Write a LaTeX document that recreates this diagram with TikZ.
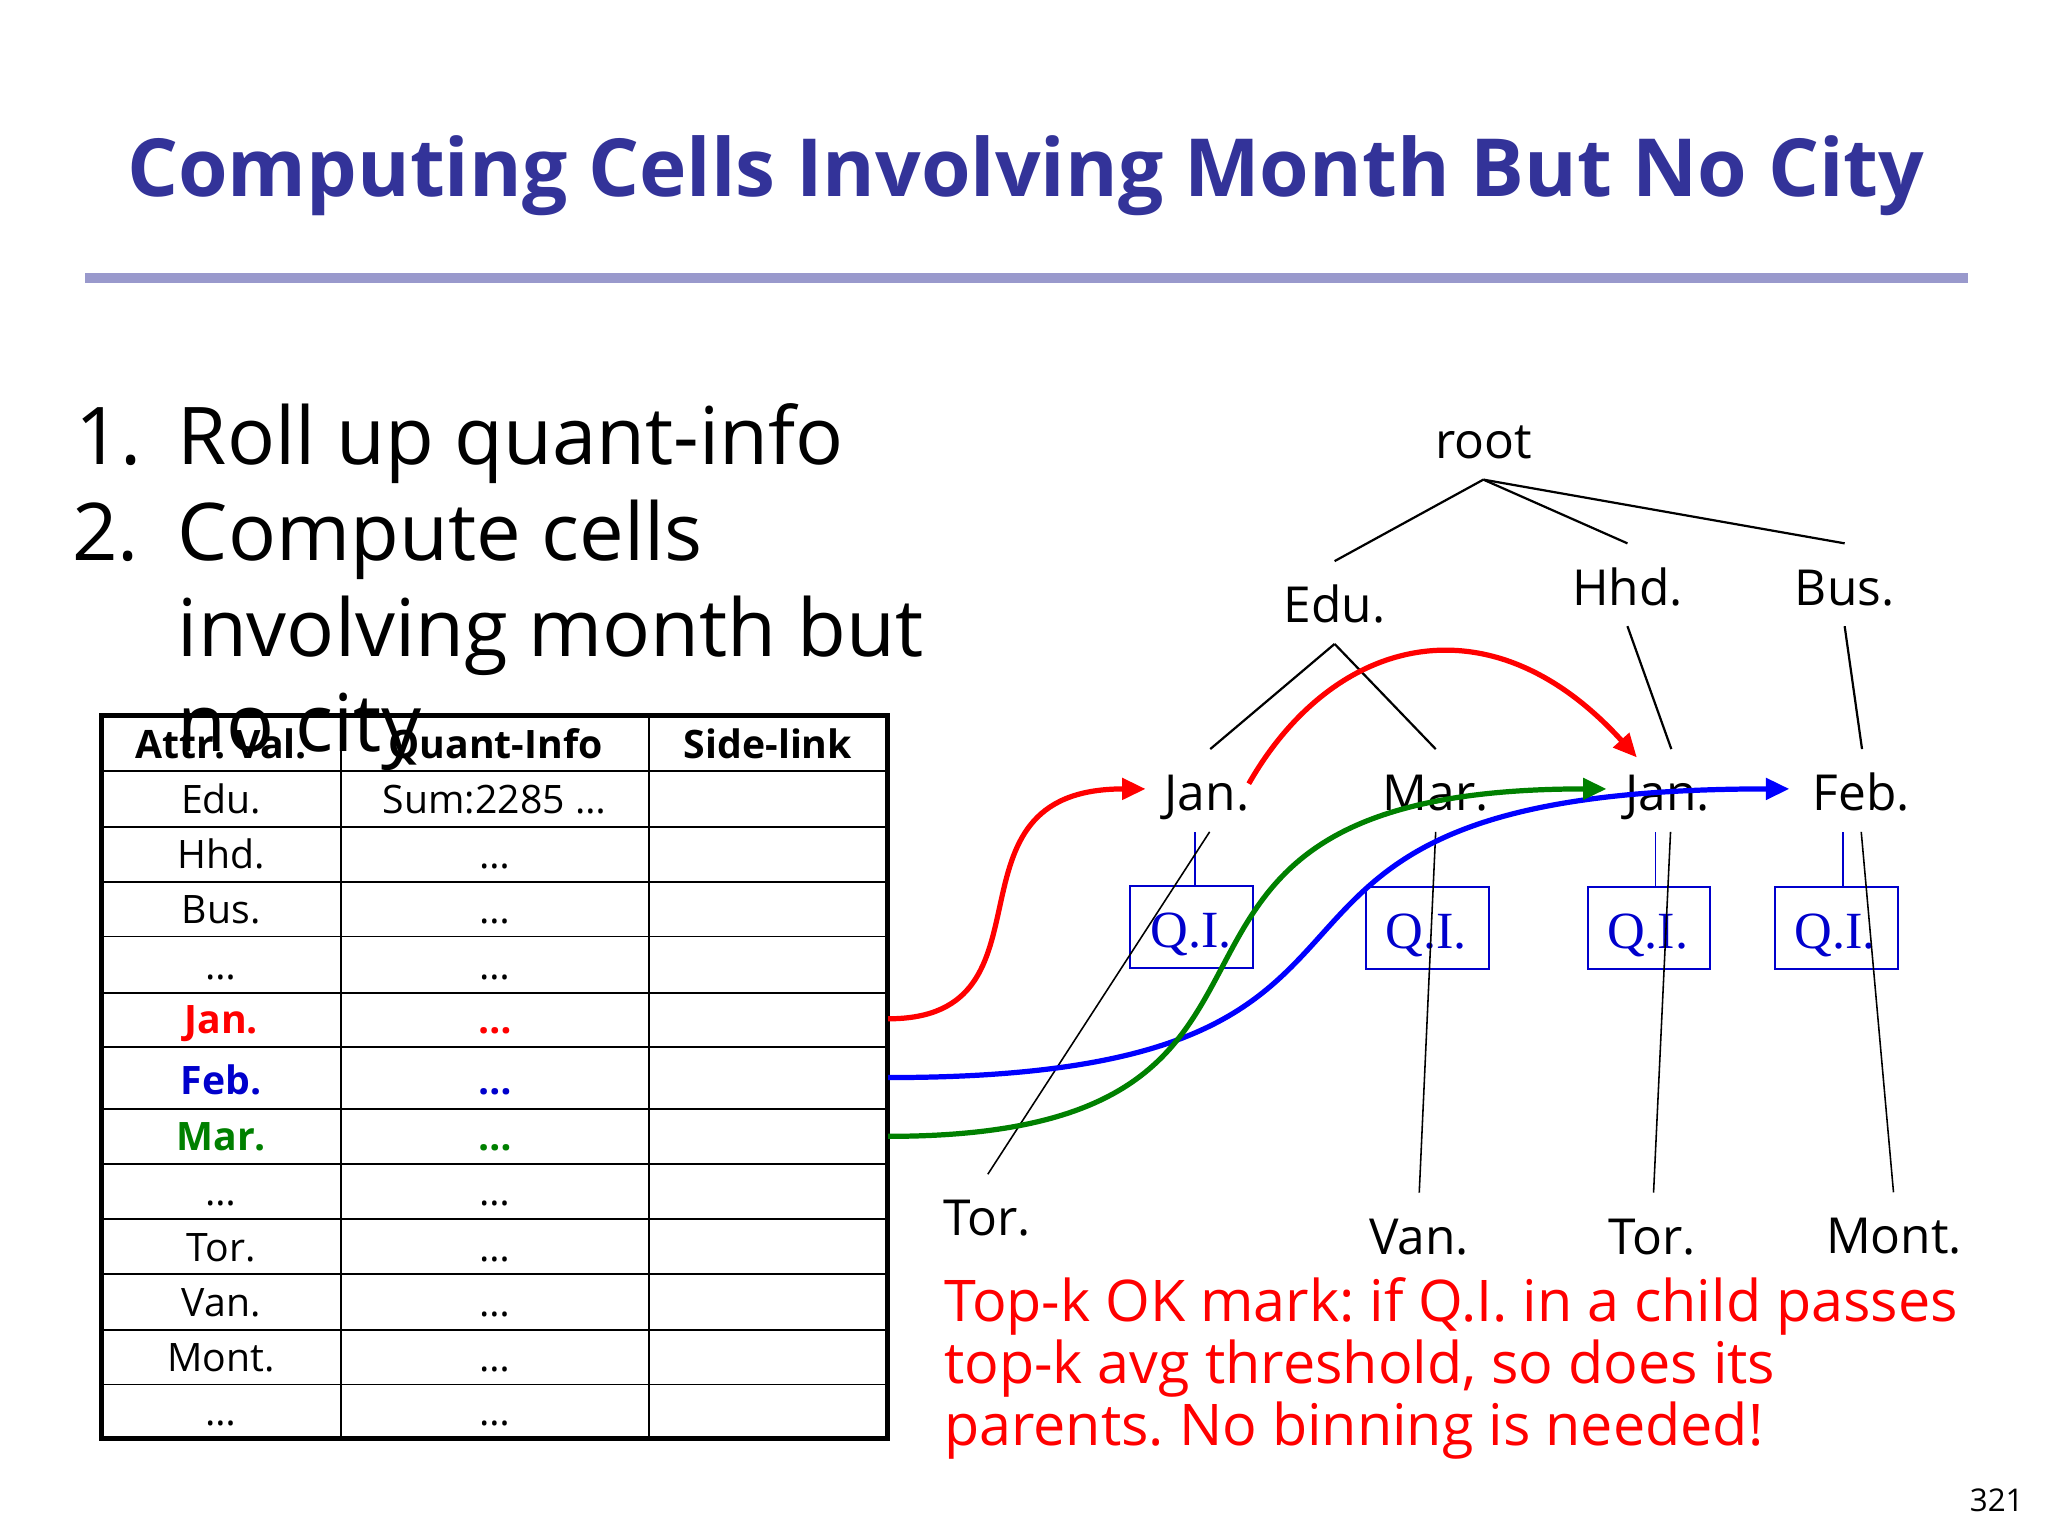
\documentclass[tikz,border=0pt]{standalone}
\usepackage{fontspec}
\setmainfont{Open Sans}
\newfontfamily\qifont{Liberation Serif}
\usetikzlibrary{arrows.meta,calc}
\frenchspacing
\definecolor{titleblue}{HTML}{333399}
\definecolor{rulecol}{HTML}{9999CC}
\definecolor{qiblue}{HTML}{0000CC}
\definecolor{arrred}{HTML}{FF0000}
\definecolor{arrgreen}{HTML}{008000}
\definecolor{arrblue}{HTML}{0000FF}
\definecolor{cellblue}{HTML}{0000CC}
\tikzset{
  titletext/.style={anchor=base, inner sep=0, text=titleblue, font=\bfseries\fontsize{61.4}{70}\selectfont},
  listtext/.style={anchor=base west, inner sep=0, font=\fontsize{61}{70}\selectfont},
  celltext/.style={anchor=base, inner sep=0, font=\fontsize{30}{34}\selectfont},
  cellbold/.style={anchor=base, inner sep=0, font=\bfseries\fontsize{30}{34}\selectfont},
  treelbl/.style={anchor=base, inner sep=0, text height=47pt, text depth=16pt, font=\fontsize{38}{44}\selectfont},
  treeedge/.style={line width=1.7pt, black},
  cityedge/.style={line width=1.2pt, black},
  qibox/.style={draw=qiblue, line width=1.6pt, minimum width=94pt, minimum height=63pt, inner sep=0},
  qitext/.style={anchor=base, inner sep=0, text=qiblue, font=\qifont\fontsize{40}{48}\selectfont},
  qistem/.style={draw=qiblue, line width=1.4pt},
  flow/.style={line width=4pt, -{Triangle[length=18pt,width=16pt]}},
  notetext/.style={anchor=base west, inner sep=0, text=arrred, font=\fontsize{44}{47}\selectfont},
  tablegrid/.style={line width=1.5pt, black},
  tableframe/.style={line width=3.5pt, black}
}
\begin{document}
\begin{tikzpicture}[x=1pt,y=-1pt]
\useasboundingbox (0,0) rectangle (1568,1176);
\fill[white] (0,0) rectangle (1568,1176);

% title and rule
\node[titletext] (title) at (785.5,150.1) {Computing Cells Involving Month But No City};
\fill[rulecol] (65,209.3) rectangle (1506.8,216.4);

% table
\foreach \yy in {590.5,633,675,717,760,801.5,849,891,933,975.5,1018,1060}
  \draw[tablegrid] (77.7,\yy) -- (679.6,\yy);
\draw[tablegrid] (261,548) -- (261,1101.5);
\draw[tablegrid] (496.6,548) -- (496.6,1101.5);
\draw[tableframe] (77.7,548) rectangle (679.6,1101.5);

\node[cellbold] (h1) at (169.4,580.5) {Attr. Val.};
\node[cellbold] (h2) at (379.5,580.5) {Quant-Info};
\node[cellbold] (h3) at (588,580.5) {Side-link};

\node[celltext] (a1) at (169.4,623) {Edu.};
\node[celltext] (b1) at (378.5,623) {Sum:2285 …};
\node[celltext] (a2) at (169.4,665) {Hhd.};
\node[celltext] (b2) at (378.8,665) {…};
\node[celltext] (a3) at (169.4,707) {Bus.};
\node[celltext] (b3) at (378.8,707) {…};
\node[celltext] (a4) at (169.4,750) {…};
\node[celltext] (b4) at (378.8,750) {…};
\node[cellbold,text=arrred] (a5) at (169.4,791.5) {Jan.};
\node[cellbold,text=arrred] (b5) at (378.8,791.5) {…};
\node[cellbold,text=cellblue] (a6) at (169.4,838) {Feb.};
\node[cellbold,text=cellblue] (b6) at (378.8,838) {…};
\node[cellbold,text=arrgreen] (a7) at (169.4,881) {Mar.};
\node[cellbold,text=arrgreen] (b7) at (378.8,881) {…};
\node[celltext] (a8) at (169.4,923) {…};
\node[celltext] (b8) at (378.8,923) {…};
\node[celltext] (a9) at (169.4,965.5) {Tor.};
\node[celltext] (b9) at (378.8,965.5) {…};
\node[celltext] (a10) at (169.4,1008) {Van.};
\node[celltext] (b10) at (378.8,1008) {…};
\node[celltext] (a11) at (169.4,1050) {Mont.};
\node[celltext] (b11) at (378.8,1050) {…};
\node[celltext] (a12) at (169.4,1091.5) {…};
\node[celltext] (b12) at (378.8,1091.5) {…};

% list text
\node[listtext] (n1) at (57.5,356) {1.};
\node[listtext] (l1) at (136,356) {Roll up quant-info};
\node[listtext] (n2) at (55,428.8) {2.};
\node[listtext] (l2) at (136,428.8) {Compute cells};
\node[listtext] (l3) at (136,502.3) {involving month but};
\node[listtext] (l4) at (136,575.5) {no city};

% tree labels
\node[treelbl] (root) at (1135.7,351) {root};
\node[treelbl] (edu) at (1021.8,476.8) {Edu.};
\node[treelbl] (hhd) at (1246,463.2) {Hhd.};
\node[treelbl] (bus) at (1412.3,463.2) {Bus.};
\node[treelbl] (jan1) at (924.1,620.7) {Jan.};
\node[treelbl] (mar) at (1099.2,620.7) {Mar.};
\node[treelbl] (jan2) at (1276.8,620.7) {Jan.};
\node[treelbl] (feb) at (1425,620.7) {Feb.};
\node[treelbl] (tor1) at (755.7,946.2) {Tor.};
\node[treelbl] (van) at (1086.6,960.3) {Van.};
\node[treelbl] (tor2) at (1264.7,960.3) {Tor.};
\node[treelbl] (mont) at (1450.2,960) {Mont.};

% tree edges
\draw[treeedge] (root.south) -- (edu.north);
\draw[treeedge] (root.south) -- (hhd.north);
\draw[treeedge] (root.south) -- (bus.north);
\draw[treeedge] (edu.south) -- ([xshift=2.5pt]jan1.north);
\draw[treeedge] (edu.south) -- (mar.north);
\draw[treeedge] (hhd.south) -- ([xshift=2.8pt]jan2.north);
\draw[treeedge] (bus.south) -- ([xshift=0.6pt]feb.north);

% Q.I. boxes
\node[qibox] (qi1) at (912.4,709.6) {};
\node[qibox] (qi2) at (1092.8,710.5) {};
\node[qibox] (qi3) at (1262.5,710.5) {};
\node[qibox] (qi4) at (1406.2,710.5) {};
\node[qitext] (q1t) at ($(qi1.center)+(-0.5,15.8)$) {Q.I.};
\node[qitext] (q2t) at ($(qi2.center)+(-1,15.8)$) {Q.I.};
\node[qitext] (q3t) at ($(qi3.center)+(-1,15.8)$) {Q.I.};
\node[qitext] (q4t) at ($(qi4.center)+(-1,15.8)$) {Q.I.};
\draw[qistem] ([xshift=2.5pt]qi1.north) -- ([xshift=2.5pt]qi1.north |- jan1.south);
\draw[qistem] ([xshift=5pt]qi3.north) -- ([xshift=5pt]qi3.north |- jan2.south);
\draw[qistem] ([xshift=4.8pt]qi4.north) -- ([xshift=4.8pt]qi4.north |- feb.south);

% city edges
\draw[cityedge] ([xshift=2pt]jan1.south) -- ([xshift=0.6pt]tor1.north);
\draw[cityedge] (mar.south) -- (van.north);
\draw[cityedge] ([xshift=2.2pt]jan2.south) -- ([xshift=1.3pt]tor2.north);
\draw[cityedge] (feb.south) -- ([xshift=-0.5pt]mont.north);

% flows
\coordinate (sjan) at (680,780);
\coordinate (sfeb) at (680,825);
\coordinate (smar) at (680,870);
\coordinate (ejan1) at ($(jan1.base)+(-47,-16.7)$);
\coordinate (sjan1) at ($(jan1.base)+(32,-20.7)$);
\coordinate (ejan2) at ($(jan2.base)+(-23.6,-40.8)$);
\coordinate (ejan2g) at ($(jan2.base)+(-46.8,-16.7)$);
\coordinate (efeb) at ($(feb.base)+(-55,-16.7)$);

\draw[flow, arrred] (sjan) .. controls (816,780) and (713,604) .. (ejan1);
\draw[flow, arrblue] (sfeb) .. controls (1149,825) and (874,604) .. (efeb);
\draw[flow, arrgreen] (smar) .. controls (1060,870) and (809,604) .. (ejan2g);
\draw[flow, arrred] (sjan1) .. controls (1020,488) and (1140,455) .. (ejan2);

% note
\node[notetext] (note1) at (722.7,1012) {Top-k OK mark: if Q.I. in a child passes};
\node[notetext] (note2) at (722.7,1059.2) {top-k avg threshold, so does its};
\node[notetext] (note3) at (722.7,1106.4) {parents. No binning is needed!};

\node[anchor=base east, inner sep=0, font=\fontsize{24}{28}\selectfont] (pnum) at (1549.5,1157.5) {321};
\end{tikzpicture}
\end{document}
